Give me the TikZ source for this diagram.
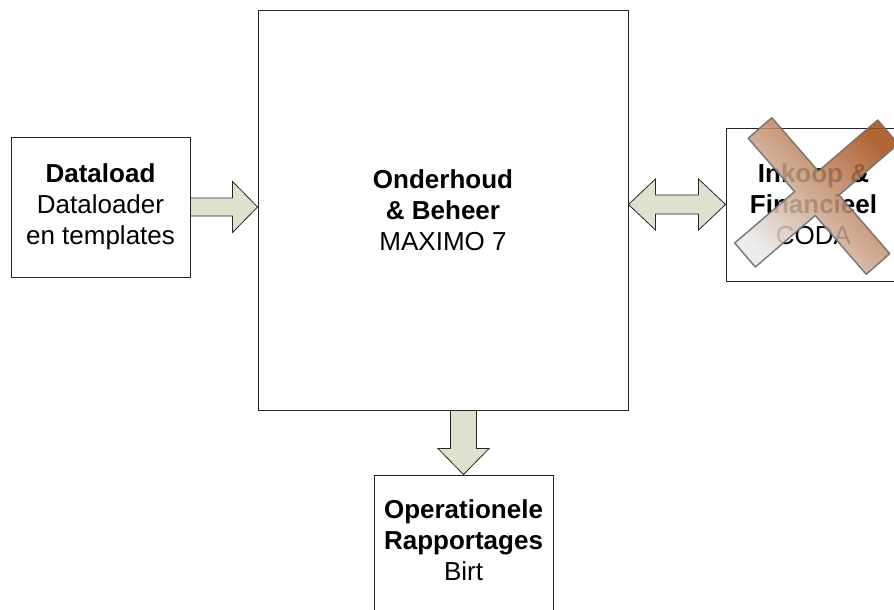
\documentclass[tikz,border=0pt]{standalone}
\usepackage{fontspec}
\setmainfont{Liberation Sans}
\usetikzlibrary{calc}
\definecolor{arrowfill}{RGB}{221,225,205}
\definecolor{crossA}{RGB}{235,235,235}
\definecolor{crossB}{RGB}{200,160,130}
\definecolor{crossC}{RGB}{165,78,22}
\definecolor{crossline}{RGB}{112,112,112}
\tikzset{
  box/.style={draw=black!85, line width=0.9pt, fill=white, inner sep=0pt, align=center,
    font=\fontsize{26}{31}\selectfont},
  lbl/.style={inner sep=0pt, align=center, font=\fontsize{26}{31}\selectfont},
  blk/.style={draw=black!85, line width=0.8pt, fill=arrowfill, line join=miter},
  crossshape/.style={draw=crossline, line width=1.5pt, line join=round,
    left color=crossA, middle color=crossB, right color=crossC, shading angle=135,
    fill opacity=0.86, draw opacity=0.9}
}
\begin{document}
\begin{tikzpicture}[x=1pt,y=-1pt]
\useasboundingbox (0,0) rectangle (894,610);
% boxes
\node[box, minimum width=370, minimum height=400] (main) at (443,210)
  {\textbf{Onderhoud}\\\textbf{\& Beheer}\\MAXIMO 7};
\node[box, minimum width=179, minimum height=140] (dl) at (100.5,207)
  {\textbf{Dataload}\\Dataloader\\en templates};
\node[box, minimum width=175, minimum height=153] (ink) at (813.5,204.5)
  {\textbf{Inkoop \&}\\\textbf{Financieel}\\CODA};
\node[box, minimum width=179, minimum height=150] (rp) at (463.5,550) {};
\node[lbl] (rptext) at ($(rp.north)+(0,66)$)
  {\textbf{Operationele}\\\textbf{Rapportages}\\Birt};
% arrow dataload -> main
\coordinate (a1s) at (dl.east);
\coordinate (a1e) at (dl.east -| main.west);
\draw[blk] ($(a1s)+(0,-9)$) -- ($(a1e)+(-25,-9)$) -- ($(a1e)+(-25,-25.5)$) -- (a1e)
  -- ($(a1e)+(-25,25.5)$) -- ($(a1e)+(-25,9)$) -- ($(a1s)+(0,9)$) -- cycle;
% double arrow main <-> ink
\coordinate (a2s) at (ink.west -| main.east);
\coordinate (a2e) at (ink.west);
\draw[blk] (a2s) -- ($(a2s)+(27,-25.5)$) -- ($(a2s)+(27,-9.5)$) -- ($(a2e)+(-27,-9.5)$)
  -- ($(a2e)+(-27,-25.5)$) -- (a2e) -- ($(a2e)+(-27,25.5)$) -- ($(a2e)+(-27,9.5)$)
  -- ($(a2s)+(27,9.5)$) -- ($(a2s)+(27,25.5)$) -- cycle;
% arrow main -> rp
\coordinate (a3s) at (rp.north |- main.south);
\coordinate (a3e) at (rp.north);
\draw[blk] ($(a3s)+(-13,0)$) -- ($(a3e)+(-13,-26)$) -- ($(a3e)+(-25.5,-26)$) -- (a3e)
  -- ($(a3e)+(25.5,-26)$) -- ($(a3e)+(13,-26)$) -- ($(a3s)+(13,0)$) -- cycle;
% cross over Inkoop box
\coordinate (P1l) at (748.2,138.3);
\coordinate (P1u) at (771.8,117.7);
\coordinate (P2u) at (889.8,253.7);
\coordinate (P2l) at (866.2,274.3);
\coordinate (Q1u) at (734.7,243.0);
\coordinate (Q2u) at (877.7,120.0);
\coordinate (Q2l) at (898.3,144.0);
\coordinate (Q1l) at (755.3,267.0);
\path[crossshape] (P1l) -- (P1u)
  -- (intersection of P1u--P2u and Q1u--Q2u) -- (Q2u) -- (Q2l)
  -- (intersection of Q1l--Q2l and P1u--P2u) -- (P2u) -- (P2l)
  -- (intersection of P1l--P2l and Q1l--Q2l) -- (Q1l) -- (Q1u)
  -- (intersection of Q1u--Q2u and P1l--P2l) -- cycle;
\end{tikzpicture}
\end{document}
